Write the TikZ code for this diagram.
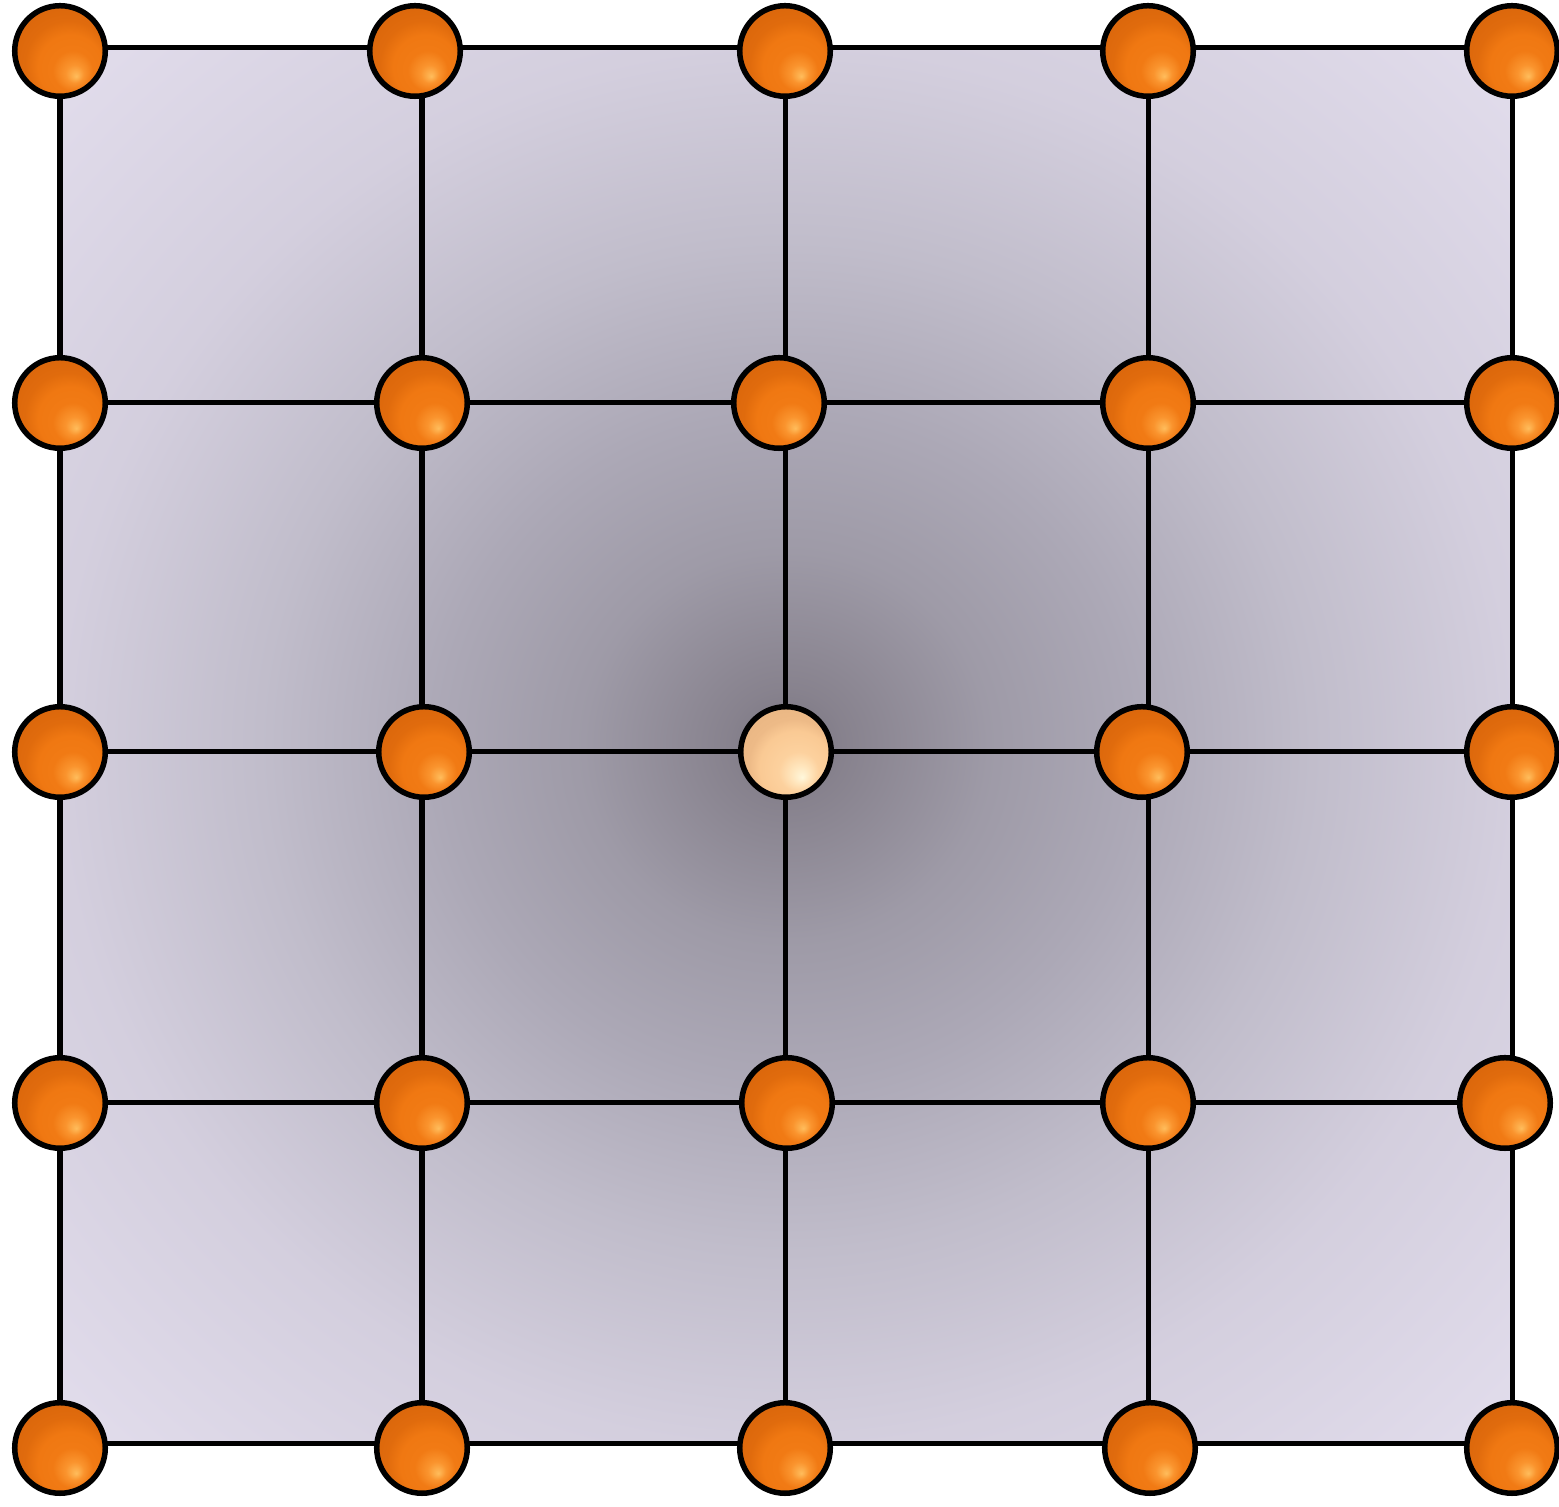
\documentclass[tikz,border=0pt]{standalone}
\pgfdeclareradialshading{bgshade}{\pgfpoint{0bp}{0bp}}{%
rgb(0bp)=(0.47,0.455,0.50);
rgb(2bp)=(0.53,0.51,0.555);
rgb(7bp)=(0.62,0.605,0.655);
rgb(12bp)=(0.675,0.66,0.715);
rgb(18bp)=(0.755,0.74,0.795);
rgb(25bp)=(0.83,0.81,0.87);
rgb(35bp)=(0.885,0.865,0.925);
rgb(50bp)=(0.885,0.865,0.925)}
\pgfdeclareradialshading{orangeball}{\pgfpoint{9bp}{-14bp}}{%
rgb(0bp)=(1,0.74,0.36);
rgb(5bp)=(0.98,0.58,0.18);
rgb(11bp)=(0.945,0.48,0.08);
rgb(18bp)=(0.94,0.47,0.07);
rgb(24bp)=(0.88,0.42,0.05);
rgb(50bp)=(0.80,0.36,0.04)}
\pgfdeclareradialshading{peachball}{\pgfpoint{9bp}{-14bp}}{%
rgb(0bp)=(1,0.97,0.86);
rgb(5bp)=(1,0.90,0.74);
rgb(11bp)=(0.99,0.82,0.62);
rgb(20bp)=(0.98,0.79,0.58);
rgb(25bp)=(0.93,0.73,0.53);
rgb(50bp)=(0.88,0.68,0.48)}
\tikzset{
  ballnode/.style={circle,draw=black,line width=0.055cm,minimum size=0.905cm,inner sep=0pt,outer sep=0pt,shading=orangeball},
  centerball/.style={ballnode,shading=peachball},
  gridline/.style={draw=black,line width=0.05cm},
}
\begin{document}
\begin{tikzpicture}[x=0.01cm,y=-0.01cm]
\useasboundingbox (0,0) rectangle (1559,1507);
% grid coordinates
\foreach \gy [count=\r from 0] in {48,403,752,1103,1444}{
  \foreach \gx [count=\c from 0] in {60,422,785,1148,1512}{
    \coordinate (g-\r-\c) at (\gx,\gy);
  }
}
\shade[shading=bgshade] (g-0-0) rectangle (g-4-4);
% grid lines
\foreach \r in {0,...,4}{
  \foreach \c [evaluate=\c as \cn using int(\c+1)] in {0,...,3}{
    \draw[gridline] (g-\r-\c) -- (g-\r-\cn);
    \draw[gridline] (g-\c-\r) -- (g-\cn-\r);
  }
}
% balls
\foreach \x [count=\c from 0] in {60,415,785,1148,1512}{\node[ballnode] (n-0-\c) at (\x,51) {};}
\foreach \x [count=\c from 0] in {60,422,779,1148,1512}{\node[ballnode] (n-1-\c) at (\x,403) {};}
\node[ballnode] (n-2-0) at (60,752) {};
\node[ballnode] (n-2-1) at (424,752) {};
\node[centerball] (n-2-2) at (786,752) {};
\node[ballnode] (n-2-3) at (1142,752) {};
\node[ballnode] (n-2-4) at (1512,752) {};
\foreach \x [count=\c from 0] in {60,422,787,1148,1505}{\node[ballnode] (n-3-\c) at (\x,1103) {};}
\foreach \x [count=\c from 0] in {60,422,785,1150,1512}{\node[ballnode] (n-4-\c) at (\x,1448) {};}
\end{tikzpicture}
\end{document}
